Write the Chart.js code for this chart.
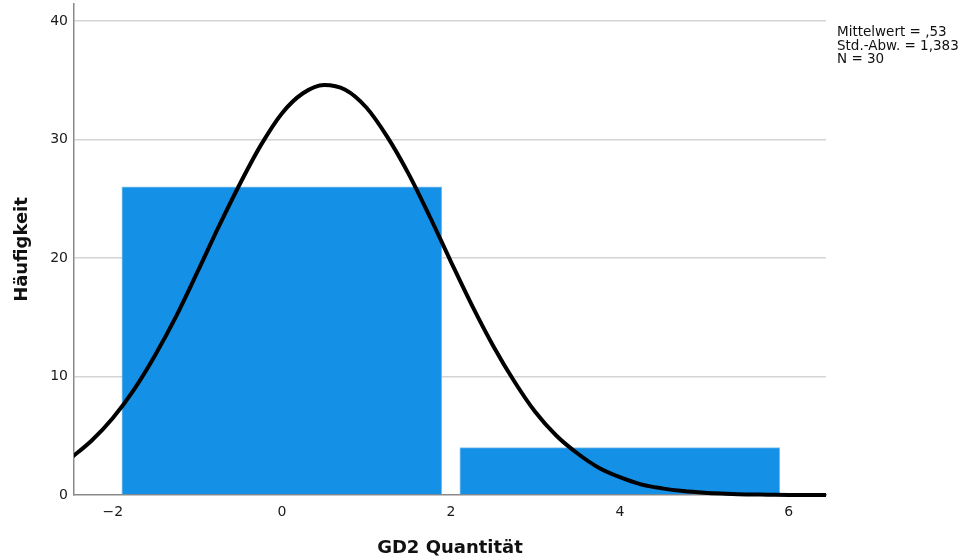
<!DOCTYPE html>
<html>
<head>
<meta charset="utf-8">
<script src="https://cdn.jsdelivr.net/npm/chart.js@4"></script>
<style>
  html,body{margin:0;padding:0;background:#fff;}
  canvas{display:block;}
</style>
</head>
<body>
<canvas id="c" width="967" height="560"></canvas>
<script>
// histogram bins (centre, count)
const binCenters = [0, 4];
const binCounts  = [26, 4];

// normal curve
const curveX = [-2.5,-2.25,-2,-1.75,-1.5,-1.25,-1,-0.75,-0.5,-0.25,0,0.25,0.5,0.75,1,1.25,1.5,1.75,2,2.25,2.5,2.75,3,3.25,3.5,3.75,4,4.25,4.5,4.75,5,5.25,5.5,5.75,6,6.25,6.5];
const curveY = [3.1,4.6,6.5,8.9,11.8,15.1,18.8,22.6,26.2,29.5,32.2,33.9,34.6,34.2,32.7,30.2,27.1,23.5,19.7,16.0,12.6,9.6,7.0,5.0,3.5,2.3,1.5,0.9,0.56,0.33,0.19,0.11,0.05,0.03,0.01,0,0];

const xTicks = [-2, 0, 2, 4, 6];
const yTicks = [0, 10, 20, 30, 40];
const statLines = ['Mittelwert = ,53', 'Std.-Abw. = 1,383', 'N = 30'];

const FONT = '"DejaVu Sans", sans-serif';

const statsBox = {
  id:'statsBox',
  afterDraw(chart){
    const ctx=chart.ctx, a=chart.chartArea;
    ctx.save();
    ctx.fillStyle='#111';
    ctx.font='13.5px '+FONT;
    ctx.textAlign='left'; ctx.textBaseline='alphabetic';
    statLines.forEach((t,i)=>ctx.fillText(t, a.right+11, 36+i*13.6));
    ctx.restore();
  }
};

new Chart(document.getElementById('c'), {
  type:'bar',
  data:{
    datasets:[
      {
        type:'line',
        data:curveX.map((x,i)=>({x, y:curveY[i]})),
        borderColor:'#000', borderWidth:4, pointRadius:0,
        cubicInterpolationMode:'monotone', fill:false, order:0,
        clip:{left:0,right:0,top:0,bottom:2}
      },
      {
        type:'bar',
        data:binCenters.map((x,i)=>({x, y:binCounts[i]})),
        backgroundColor:'#1490e6', borderColor:'#86c3ee', borderWidth:1,
        barThickness:320, order:1
      }
    ]
  },
  plugins:[statsBox],
  options:{
    responsive:false, animation:false,
    layout:{padding:{top:4,right:141,left:0,bottom:0}},
    plugins:{legend:{display:false}, tooltip:{enabled:false}},
    scales:{
      x:{
        type:'linear', min:-2.46, max:6.44, offset:false,
        afterBuildTicks:s=>{s.ticks=xTicks.map(v=>({value:v}));},
        afterFit:s=>{s.height=65; s.paddingLeft=0; s.paddingRight=0;},
        grid:{display:false, drawTicks:false, offset:false},
        border:{display:true, color:'#8a8a8a', width:1.5},
        ticks:{padding:9, color:'#1a1a1a', font:{family:FONT,size:14}, maxRotation:0,
               callback:v=>String(v).replace('-','\u2212')},
        title:{display:true, text:'GD2 Quantität', color:'#111',
               font:{family:FONT,size:18,weight:'bold'}, padding:{top:0,bottom:1}}
      },
      y:{
        min:0, max:41.43,
        afterBuildTicks:s=>{s.ticks=yTicks.map(v=>({value:v}));},
        afterFit:s=>{s.width=74; s.paddingTop=0; s.paddingBottom=0;},
        grid:{color:c=>c.tick&&c.tick.value===0?'rgba(0,0,0,0)':'#d4d4d4', lineWidth:1.5, drawTicks:false},
        border:{display:true, color:'#8a8a8a', width:1.5},
        ticks:{padding:6, color:'#1a1a1a', font:{family:FONT,size:14}},
        title:{display:true, text:'Häufigkeit', color:'#111',
               font:{family:FONT,size:18,weight:'bold'}, padding:{top:12,bottom:0}}
      }
    }
  }
});
</script>
</body>
</html>
